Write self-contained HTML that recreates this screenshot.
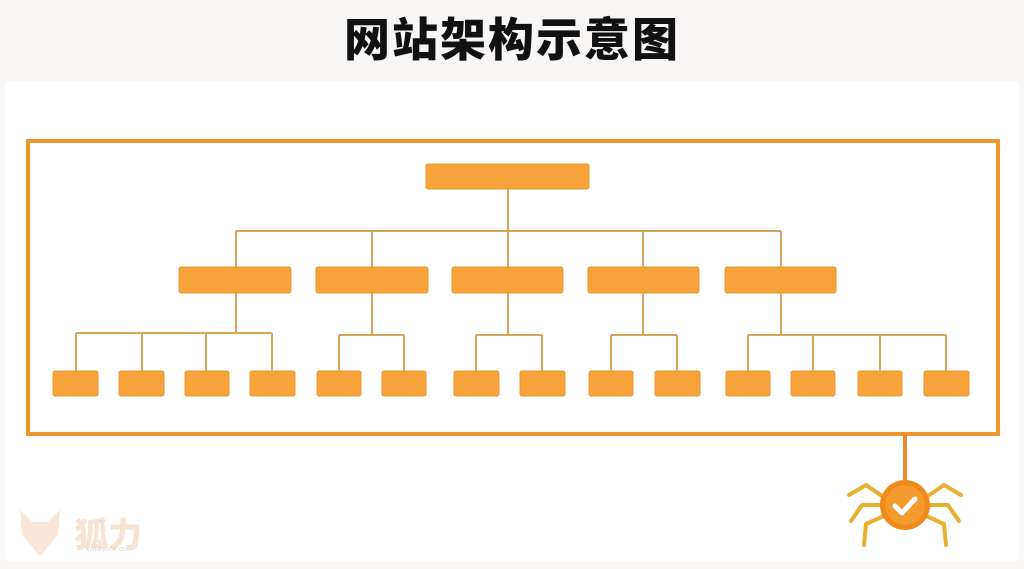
<!DOCTYPE html>
<html><head><meta charset="utf-8"><style>
html,body{margin:0;padding:0;background:#f7f6f4;}
body{width:1024px;height:569px;position:relative;overflow:hidden;font-family:"Liberation Sans","Noto Sans CJK SC",sans-serif;}
.title{position:absolute;left:0;width:1024px;top:10px;text-align:center;font-size:46px;font-weight:900;color:#111;letter-spacing:2px;line-height:60px;}
.card{position:absolute;left:5px;top:82px;width:1014px;height:480px;background:#fff;border-radius:6px;}
svg{position:absolute;left:0;top:0;}
.wm{position:absolute;left:74px;top:508px;font-size:34px;font-weight:900;color:#f8e2d0;}
.wm2{position:absolute;left:86px;top:546px;font-size:7px;color:#e7d8cc;}
</style></head><body>
<div class="title">网站架构示意图</div>
<div class="card"></div>
<div class="wm">狐力</div><div class="wm2">Whalysee.com</div>
<svg width="1024" height="569" viewBox="0 0 1024 569">
<g fill="#f8e6d8"><path d="M20 510 L32 522 L48 522 L60 510 L58 535 L40 556 L22 535Z"/></g>
<rect x="28" y="141" width="970" height="293" fill="none" stroke="#f0962e" stroke-width="4"/>
<g stroke="#d8a45c" stroke-width="2" fill="none">
<path d="M508 189V231M236 231H781M236 231V267M372 231V267M508 231V267M643 231V267M781 231V267"/>
<path d="M236 293V333M76 333H272M76 333V371M142 333V371M206 333V371M272 333V371"/>
<path d="M372 293V335M339 335H404M339 335V371M404 335V371"/>
<path d="M508 293V335M476 335H542M476 335V371M542 335V371"/>
<path d="M643 293V335M611 335H677M611 335V371M677 335V371"/>
<path d="M781 293V335M748 335H946M748 335V371M813 335V371M880 335V371M946 335V371"/>
</g>
<g fill="#f7a33c" stroke="#eb9631" stroke-width="1">
<rect x="426" y="164" width="163" height="25" rx="2"/>
<rect x="179" y="267" width="112" height="26" rx="2"/>
<rect x="316" y="267" width="112" height="26" rx="2"/>
<rect x="452" y="267" width="111" height="26" rx="2"/>
<rect x="588" y="267" width="111" height="26" rx="2"/>
<rect x="725" y="267" width="111" height="26" rx="2"/>
<rect x="53" y="371" width="45" height="25" rx="2"/>
<rect x="119" y="371" width="45" height="25" rx="2"/>
<rect x="185" y="371" width="44" height="25" rx="2"/>
<rect x="250" y="371" width="45" height="25" rx="2"/>
<rect x="317" y="371" width="44" height="25" rx="2"/>
<rect x="382" y="371" width="44" height="25" rx="2"/>
<rect x="454" y="371" width="45" height="25" rx="2"/>
<rect x="520" y="371" width="45" height="25" rx="2"/>
<rect x="589" y="371" width="44" height="25" rx="2"/>
<rect x="655" y="371" width="45" height="25" rx="2"/>
<rect x="726" y="371" width="44" height="25" rx="2"/>
<rect x="791" y="371" width="44" height="25" rx="2"/>
<rect x="858" y="371" width="44" height="25" rx="2"/>
<rect x="924" y="371" width="45" height="25" rx="2"/>
</g>
<line x1="905" y1="434" x2="905" y2="484" stroke="#ea8a2a" stroke-width="4"/>
<g stroke="#e9b030" stroke-width="4" fill="none" stroke-linecap="round" stroke-linejoin="round">
<path d="M885 498 L866 485 L849 495"/>
<path d="M925 498 L944 485 L961 495"/>
<path d="M882 505 L862 505 L851 521"/>
<path d="M928 505 L948 505 L959 521"/>
<path d="M886 515 L866 524 L864 545"/>
<path d="M924 515 L944 524 L946 545"/>
</g>
<circle cx="905" cy="505" r="25" fill="#f08a1c"/>
<circle cx="905" cy="505" r="20" fill="#f59a2c"/>
<path d="M895 506 L902 513 L915 499" stroke="#fff" stroke-width="5" fill="none" stroke-linecap="round" stroke-linejoin="round"/>
</svg>
</body></html>
